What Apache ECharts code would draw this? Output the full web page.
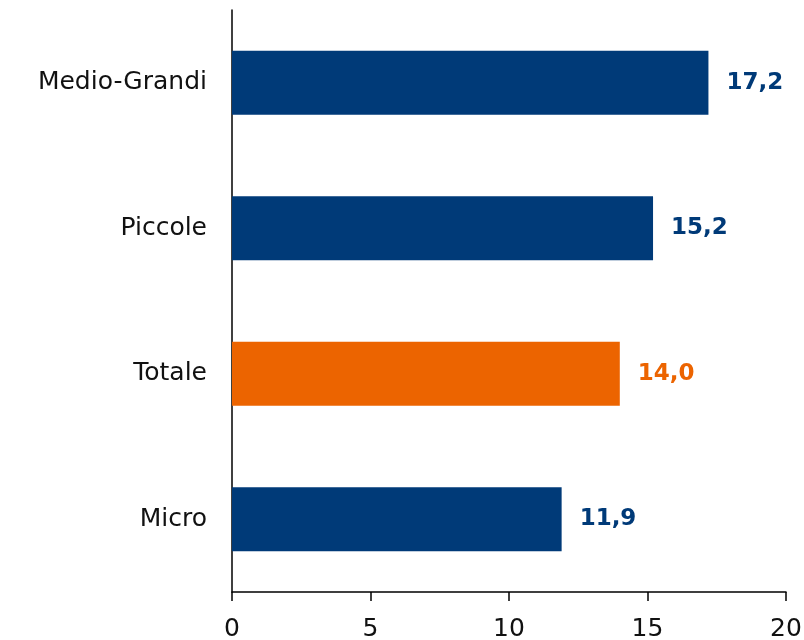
<!DOCTYPE html>
<html>
<head>
<meta charset="utf-8">
<script src="https://cdn.jsdelivr.net/npm/echarts@6/dist/echarts.min.js"></script>
<style>
  html, body { margin: 0; padding: 0; background: #fff; }
  #chart { width: 804px; height: 640px; }
</style>
</head>
<body>
<div id="chart"></div>
<script>
var categories = ["Micro", "Totale", "Piccole", "Medio-Grandi"];
var values = [11.9, 14.0, 15.2, 17.2];
var highlight = "Totale";
var xTicks = [0, 5, 10, 15, 20];

var navy = "#003a78";
var orange = "#ec6400";

var chart = echarts.init(document.getElementById("chart"));

var seriesData = values.map(function (v, i) {
    var c = categories[i] === highlight ? orange : navy;
    return {
        value: v,
        itemStyle: { color: c },
        label: { color: c }
    };
});

chart.setOption({
    animation: false,
    textStyle: { fontFamily: "DejaVu Sans" },
    grid: {
        left: 232,
        right: 18,
        top: 10,
        bottom: 48,
        containLabel: false,
        outerBoundsMode: "none"
    },
    xAxis: {
        type: "value",
        min: xTicks[0],
        max: xTicks[xTicks.length - 1],
        interval: 5,
        splitLine: { show: false },
        axisLine: { show: true, lineStyle: { color: "#000", width: 1.5 } },
        axisTick: { show: true, length: 9, lineStyle: { color: "#000", width: 1.5 } },
        axisLabel: {
            color: "#111",
            fontSize: 25,
            margin: 25,
            fontFamily: "DejaVu Sans"
        }
    },
    yAxis: {
        type: "category",
        data: categories,
        axisLine: { show: true, lineStyle: { color: "#000", width: 1.5 } },
        axisTick: { show: false },
        axisLabel: {
            color: "#111",
            fontSize: 25,
            margin: 25,
            fontFamily: "DejaVu Sans"
        }
    },
    series: [
        {
            type: "bar",
            data: seriesData,
            barWidth: "44%",
            label: {
                show: true,
                position: "right",
                distance: 18,
                fontSize: 23,
                fontWeight: "bold",
                fontFamily: "DejaVu Sans",
                formatter: function (p) {
                    return p.value.toFixed(1).replace(".", ",");
                }
            }
        }
    ]
});
</script>
</body>
</html>
